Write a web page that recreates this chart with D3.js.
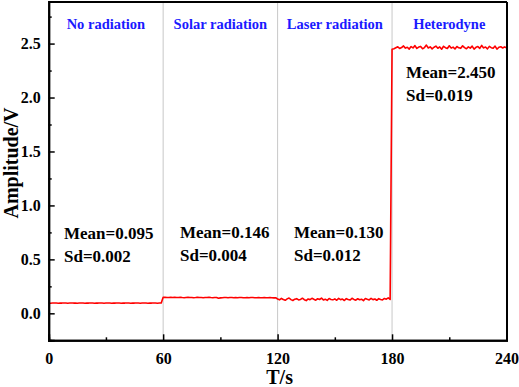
<!DOCTYPE html>
<html>
<head>
    <meta charset="utf-8">
    <title>Amplitude vs time</title>
    <style>
        body, html {
            margin: 0;
            background: #fff;
        }
        .tick-label {
            font: bold 16px "Liberation Serif", "Times New Roman", serif;
        }
        .axis-title {
            font: bold 20px "Liberation Serif", "Times New Roman", serif;
        }
        .stage {
            font: bold 14.5px "Liberation Serif", "Times New Roman", serif;
            fill: #1a1aff;
            text-anchor: middle;
        }
        .stat {
            font: bold 17px "Liberation Serif", "Times New Roman", serif;
            fill: #000;
        }
    </style>
    <script src="https://d3js.org/d3.v7.min.js"></script>
</head>
<body>
    <svg width="519" height="387"></svg>
    <script>
        // sampling: one reading per second, segments start at these times
        const segStart = [0, 60, 120, 180];
        const stages = ["No radiation", "Solar radiation", "Laser radiation", "Heterodyne"];
        const means = ["Mean=0.095", "Mean=0.146", "Mean=0.130", "Mean=2.450"];
        const sds = ["Sd=0.002", "Sd=0.004", "Sd=0.012", "Sd=0.019"];

        const noRadiation = [
            0.095,0.094,0.095,0.096,0.095,0.094,0.095,0.095,0.096,0.095,
            0.094,0.095,0.096,0.095,0.095,0.094,0.095,0.096,0.095,0.094,
            0.095,0.095,0.096,0.095,0.094,0.095,0.095,0.096,0.095,0.094,
            0.095,0.096,0.095,0.094,0.095,0.095,0.096,0.095,0.094,0.095,
            0.095,0.096,0.095,0.094,0.095,0.095,0.096,0.095,0.094,0.095,
            0.096,0.095,0.094,0.095,0.095,0.096,0.095,0.094,0.095,0.096
        ];
        const solarRadiation = [
            0.148,0.149,0.147,0.146,0.148,0.147,0.149,0.146,0.147,0.148,
            0.146,0.145,0.147,0.148,0.146,0.147,0.145,0.146,0.148,0.147,
            0.146,0.145,0.147,0.146,0.148,0.146,0.145,0.147,0.146,0.140,
            0.143,0.145,0.147,0.146,0.144,0.146,0.147,0.145,0.146,0.144,
            0.146,0.147,0.145,0.144,0.146,0.145,0.147,0.146,0.144,0.145,
            0.146,0.144,0.145,0.147,0.145,0.144,0.146,0.145,0.143,0.145
        ];
        const laserRadiation = [
            0.132,0.125,0.138,0.128,0.121,0.134,0.142,0.127,0.119,0.131,
            0.136,0.124,0.129,0.140,0.126,0.118,0.133,0.127,0.139,0.130,
            0.122,0.135,0.128,0.141,0.124,0.131,0.120,0.137,0.129,0.125,
            0.134,0.121,0.138,0.127,0.132,0.119,0.136,0.128,0.123,0.140,
            0.129,0.122,0.135,0.126,0.131,0.118,0.137,0.130,0.124,0.139,
            0.127,0.133,0.121,0.136,0.128,0.125,0.138,0.131,0.144,0.129
        ];
        const heterodyne = [
            2.447,2.452,2.461,2.470,2.455,2.463,2.478,2.458,2.466,2.449,
            2.472,2.460,2.481,2.455,2.468,2.474,2.452,2.463,2.486,2.459,
            2.470,2.451,2.466,2.477,2.457,2.469,2.448,2.475,2.462,2.455,
            2.480,2.458,2.467,2.450,2.473,2.461,2.456,2.479,2.463,2.452,
            2.470,2.458,2.476,2.449,2.465,2.472,2.455,2.483,2.460,2.468,
            2.451,2.474,2.462,2.457,2.477,2.448,2.466,2.471,2.459,2.469,2.462
        ];

        const xTicks = [0, 60, 120, 180, 240];
        const xMinor = [30, 90, 150, 210];
        const yTicks = [0.0, 0.5, 1.0, 1.5, 2.0, 2.5];
        const yMinor = [0.25, 0.75, 1.25, 1.75, 2.25, 2.75];

        const series = [noRadiation, solarRadiation, laserRadiation, heterodyne];
        const points = [];
        series.forEach((vals, s) => {
            vals.forEach((v, i) => points.push({ t: segStart[s] + i, v: v }));
        });

        const svg = d3.select('svg');
        const plotLeft = 48.7, plotRight = 506.5, plotTop = 1.5, plotBottom = 340.3;

        const x = d3.scaleLinear().domain([0, 240]).range([plotLeft, plotRight]);
        const y = d3.scaleLinear().domain([-0.25, 2.89]).range([plotBottom, plotTop]);

        // stage dividers
        svg.selectAll('.divider')
            .data(segStart.slice(1))
            .enter().append('line')
            .attr('class', 'divider')
            .attr('x1', d => x(d)).attr('x2', d => x(d))
            .attr('y1', plotTop).attr('y2', plotBottom)
            .attr('stroke', '#c8c8c8')
            .attr('stroke-width', 1);

        // signal
        const line = d3.line().x(d => x(d.t)).y(d => y(d.v));
        svg.append('path')
            .datum(points)
            .attr('d', line)
            .attr('fill', 'none')
            .attr('stroke', '#ff0000')
            .attr('stroke-width', 1.6)
            .attr('stroke-linejoin', 'round');

        // axes with inward ticks
        svg.append('g')
            .attr('transform', `translate(0,${plotBottom})`)
            .call(d3.axisBottom(x).tickValues(xTicks).tickSize(-6).tickPadding(12).tickFormat(d3.format('d')));
        svg.append('g')
            .attr('transform', `translate(0,${plotBottom})`)
            .call(d3.axisBottom(x).tickValues(xMinor).tickSize(-3).tickFormat(''));
        svg.append('g')
            .attr('transform', `translate(${plotLeft},0)`)
            .call(d3.axisLeft(y).tickValues(yTicks).tickSize(-6).tickPadding(8).tickFormat(d3.format('.1f')));
        svg.append('g')
            .attr('transform', `translate(${plotLeft},0)`)
            .call(d3.axisLeft(y).tickValues(yMinor).tickSize(-3).tickFormat(''));
        svg.append('g')
            .attr('transform', `translate(${plotRight},0)`)
            .call(d3.axisRight(y).tickValues([]).tickSizeOuter(0));
        svg.append('g')
            .attr('transform', `translate(0,${plotTop})`)
            .call(d3.axisTop(x).tickValues([]).tickSizeOuter(0));

        svg.selectAll('.domain').attr('stroke', '#000').attr('stroke-width', 2);
        svg.selectAll('.tick line').attr('stroke', '#000').attr('stroke-width', 1.5);
        svg.selectAll('.tick text').attr('class', 'tick-label').attr('fill', '#000');

        // axis titles
        svg.append('text')
            .attr('class', 'axis-title')
            .attr('x', x(120) + 2)
            .attr('y', 384)
            .attr('text-anchor', 'middle')
            .text('T/s');
        svg.append('text')
            .attr('class', 'axis-title')
            .attr('transform', 'translate(18,163) rotate(-90)')
            .attr('text-anchor', 'middle')
            .text('Amplitude/V');

        // stage labels and statistics
        svg.selectAll('.stage')
            .data(stages)
            .enter().append('text')
            .attr('class', 'stage')
            .attr('x', (d, i) => x(segStart[i] + 30))
            .attr('y', 29)
            .text(d => d);

        const statPos = [[64, 239], [180, 238], [294, 238], [406, 78]];
        means.forEach((m, i) => {
            svg.append('text').attr('class', 'stat')
                .attr('x', statPos[i][0]).attr('y', statPos[i][1]).text(m);
            svg.append('text').attr('class', 'stat')
                .attr('x', statPos[i][0]).attr('y', statPos[i][1] + 23).text(sds[i]);
        });
    </script>
</body>
</html>
